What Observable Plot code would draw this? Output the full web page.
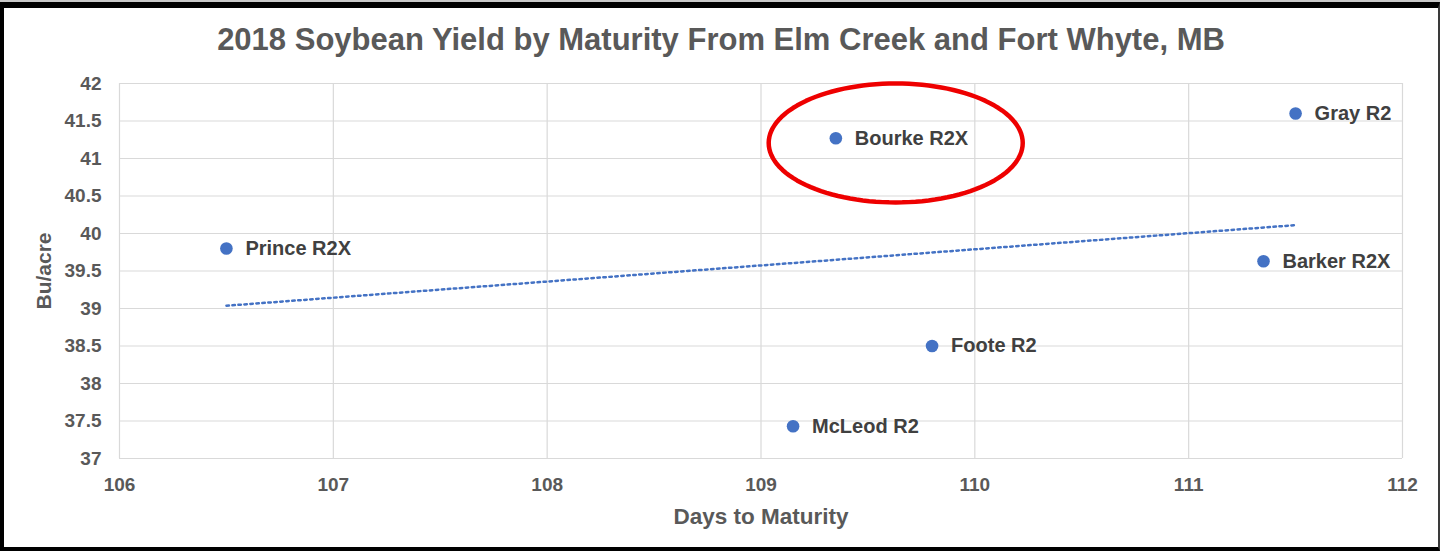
<!DOCTYPE html>
<html>
<head>
<meta charset="utf-8">
<script src="https://cdn.jsdelivr.net/npm/d3@7"></script>
<script src="https://cdn.jsdelivr.net/npm/@observablehq/plot@0.6"></script>
<style>
  html, body { margin: 0; padding: 0; background: #fff; }
  .outer { width: 1440px; height: 551px; box-sizing: border-box; border-top: 2px solid #c8c8c8; }
  .frame { width: 1440px; height: 549px; box-sizing: border-box;
           border-top: 6px solid #000; border-left: 4px solid #000;
           border-right: 2px solid #3a3a3a; border-bottom: 4px solid #000; background: #fff; }
  .title { height: 62px; line-height: 64px; text-align: center; font-family: "Liberation Sans", Arial, sans-serif;
           font-weight: bold; font-size: 31px; color: #595959; white-space: nowrap; }
  #chart svg text { font-weight: bold; }
</style>
</head>
<body>
<div class="outer"><div class="frame">
  <div class="title">2018 Soybean Yield by Maturity From Elm Creek and Fort Whyte, MB</div>
  <div id="chart"></div>
</div></div>
<script>
// Data
const varieties = ["Prince R2X", "Bourke R2X", "Gray R2", "Barker R2X", "Foote R2", "McLeod R2"];
const daysToMaturity = [106.5, 109.35, 111.5, 111.35, 109.8, 109.15];
const yieldBuAcre = [39.8, 41.27, 41.6, 39.63, 38.5, 37.43];

const xTicks = [106, 107, 108, 109, 110, 111, 112];
const yTicks = [37, 37.5, 38, 38.5, 39, 39.5, 40, 40.5, 41, 41.5, 42];

// Highlight annotation (red ellipse around Bourke R2X), centre and radii in data units
const highlightCenter = [109.63, 41.207];
const highlightRadii = [0.594, 0.793];

const data = varieties.map((name, i) => ({name, x: daysToMaturity[i], y: yieldBuAcre[i]}));

const ellipse = d3.range(0, 361, 3).map(a => {
  const t = a * Math.PI / 180;
  return {x: highlightCenter[0] + highlightRadii[0] * Math.cos(t), y: highlightCenter[1] + highlightRadii[1] * Math.sin(t)};
});

const textColor = "#595959";
const fmt = d => String(d);

const plot = Plot.plot({
  width: 1434,
  height: 477,
  marginTop: 13,
  marginBottom: 89,
  marginLeft: 115,
  marginRight: 36,
  style: {fontFamily: "'Liberation Sans', Arial, sans-serif", background: "transparent"},
  x: {domain: [106, 112], ticks: xTicks, label: null},
  y: {domain: [37, 42], ticks: yTicks, label: null},
  marks: [
    Plot.gridX(xTicks, {stroke: "#d9d9d9", strokeOpacity: 1, strokeWidth: 1.2}),
    Plot.gridY(yTicks, {stroke: "#d9d9d9", strokeOpacity: 1, strokeWidth: 1.2}),
    Plot.axisX(xTicks, {tickSize: 0, tickPadding: 19, fontSize: 19, fill: textColor, tickFormat: fmt}),
    Plot.axisY(yTicks, {tickSize: 0, tickPadding: 18, fontSize: 19, fill: textColor, tickFormat: fmt}),
    Plot.linearRegressionY(data, {x: "x", y: "y", ci: 0, stroke: "#4472C4", strokeWidth: 2.5, strokeDasharray: "2.5,3.5"}),
    Plot.dot(data, {x: "x", y: "y", r: 6.3, fill: "#4472C4", stroke: "none"}),
    Plot.text(data, {x: "x", y: "y", text: "name", dx: 19, textAnchor: "start", lineAnchor: "middle", fontSize: 20, fill: "#404040"}),
    Plot.line(ellipse, {x: "x", y: "y", stroke: "#ee0000", strokeWidth: 4.5, curve: "linear-closed"}),
    Plot.text(["Days to Maturity"], {frameAnchor: "bottom", dy: 58, lineAnchor: "middle", fontSize: 22.5, fill: textColor}),
    Plot.text(["Bu/acre"], {frameAnchor: "left", dx: -75, rotate: -90, lineAnchor: "middle", textAnchor: "middle", fontSize: 21, fill: textColor})
  ]
});
document.getElementById("chart").appendChild(plot);
</script>
</body>
</html>
